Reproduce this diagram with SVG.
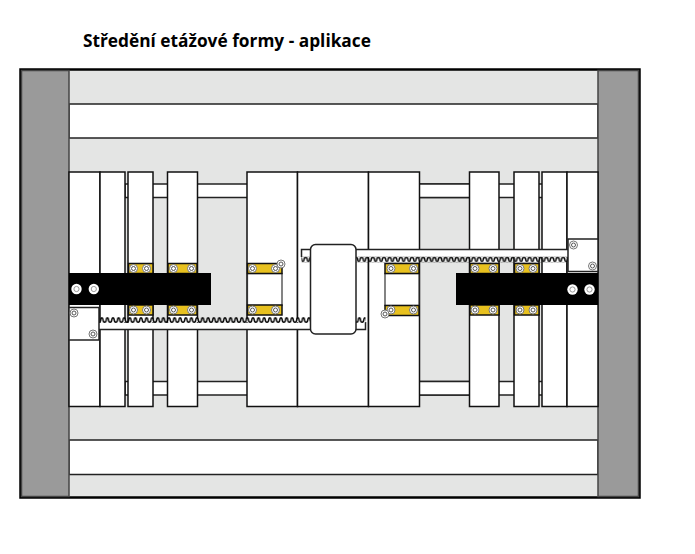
<svg xmlns="http://www.w3.org/2000/svg" width="695" height="554" viewBox="0 0 695 554">
<style>
.g{fill:#e4e5e4;stroke:none}
.w{fill:#fff;stroke:#222;stroke-width:1.5}
.p{fill:#fff;stroke:#111;stroke-width:1.5}
.y{fill:#e8c11f;stroke:#111;stroke-width:1.5}
.b{fill:#000}
.c{fill:#9a9a9a;stroke:#444;stroke-width:1.5}
.t{font-family:"Open Sans",sans-serif;font-weight:700;font-size:17.3px;fill:#000}
</style>
<defs>
<g id="s"><circle r="4" fill="#fff" stroke="#777" stroke-width="1"/><circle r="2" fill="none" stroke="#555" stroke-width="1"/></g>
<g id="h"><circle r="5.200" fill="#fff"/><circle r="2.600" fill="none" stroke="#999" stroke-width="1"/></g>
<pattern id="tu" x="99" y="317" width="5.600" height="6" patternUnits="userSpaceOnUse"><path d="M0 5.200 Q1.400 5.200 1.600 3 Q1.800 .8 2.800 .8 Q3.800 .8 4 3 Q4.200 5.200 5.600 5.200" fill="#fff" stroke="#000" stroke-width="1.500"/></pattern>
<pattern id="td" x="300" y="256.500" width="5.600" height="6" patternUnits="userSpaceOnUse"><path d="M0 .8 Q1.400 .8 1.600 3 Q1.800 5.200 2.800 5.200 Q3.800 5.200 4 3 Q4.200 .8 5.600 .8" fill="#fff" stroke="#000" stroke-width="1.500"/></pattern>
</defs>
<rect width="695" height="554" fill="#fff"/>
<text class="t" x="83" y="47">Středění etážové formy - aplikace</text>
<g id="frame">
<rect x="20.500" y="69.500" width="619" height="428" fill="#e4e5e4" stroke="#000" stroke-width="2.500"/>
<rect class="w" x="69" y="104" width="529" height="34"/>
<rect class="w" x="69" y="440" width="529" height="34.500"/>
<rect class="c" x="21.500" y="70.500" width="47.500" height="426" stroke="none"/>
<rect class="c" x="598" y="70.500" width="40.500" height="426"/>
</g>
<g id="rods">
<rect class="w" x="125" y="184" width="345" height="13.500"/>
<rect class="w" x="419" y="184" width="150" height="13.500"/>
<rect class="w" x="125" y="381.500" width="345" height="13.500"/>
<rect class="w" x="419" y="381.500" width="150" height="13.500"/>
</g>
<g id="plates">
<rect class="p" x="69" y="172" width="31" height="234.500"/>
<rect class="p" x="100" y="172" width="25" height="234.500"/>
<rect class="p" x="128" y="172" width="25" height="234.500"/>
<rect class="p" x="167.500" y="172" width="30" height="234.500"/>
<rect class="p" x="247" y="172" width="50.500" height="234.500"/>
<rect class="p" x="297.500" y="172" width="71" height="234.500"/>
<rect class="p" x="368.500" y="172" width="51" height="234.500"/>
<rect class="p" x="469.500" y="172" width="29.500" height="234.500"/>
<rect class="p" x="514" y="172" width="25" height="234.500"/>
<rect class="p" x="542" y="172" width="25" height="234.500"/>
<rect class="p" x="567" y="172" width="31" height="234.500"/>
</g>
<g id="connectors">
<path d="M301.500 257V249.500H568V257Z" fill="#fff" stroke="none"/>
<path d="M301.500 257V249.500H568" fill="none" stroke="#222" stroke-width="1.500"/>
<rect x="301.500" y="256.500" width="266.500" height="6" fill="url(#td)"/>
<path d="M99 323H365.500V329.500H99Z" fill="#fff" stroke="none"/>
<path d="M99 329.500H365.500V322" fill="none" stroke="#222" stroke-width="1.500"/>
<rect x="99" y="317" width="266.500" height="6" fill="url(#tu)"/>
</g>
<g id="housing"><rect x="310.500" y="244.500" width="45.500" height="89.500" rx="5" fill="#fff" stroke="#222" stroke-width="1.500"/></g>
<g id="left-block">
<rect x="69" y="307.500" width="30" height="32.500" fill="#fff" stroke="#222" stroke-width="1.500"/>
<use href="#s" x="74" y="313"/>
<use href="#s" x="93" y="334"/>
</g>
<g id="right-block">
<rect x="568" y="239" width="30" height="32.500" fill="#fff" stroke="#222" stroke-width="1.500"/>
<use href="#s" x="573.500" y="245"/>
<use href="#s" x="592.500" y="266"/>
</g>
<g id="pads">
<rect class="y" x="128.500" y="263.500" width="24.500" height="10"/><use href="#s" x="133.500" y="268.500"/><use href="#s" x="146.500" y="268.500"/>
<rect class="y" x="128.500" y="305" width="24.500" height="10"/><use href="#s" x="133.500" y="310"/><use href="#s" x="146.500" y="310"/>
<rect class="y" x="168" y="263.500" width="29" height="10"/><use href="#s" x="173.500" y="268.500"/><use href="#s" x="191.500" y="268.500"/>
<rect class="y" x="168" y="305" width="29" height="10"/><use href="#s" x="173.500" y="310"/><use href="#s" x="191.500" y="310"/>
<rect x="247.500" y="273.500" width="34.500" height="32" fill="#fff" stroke="#333" stroke-width="1.200"/>
<rect class="y" x="247.500" y="263.500" width="34.500" height="10"/><use href="#s" x="252.500" y="268.500"/><use href="#s" x="275.500" y="268.500"/>
<rect class="y" x="247.500" y="305" width="34.500" height="10"/><use href="#s" x="252.500" y="310"/><use href="#s" x="275.500" y="310"/>
<use href="#s" x="281" y="264"/>
<rect x="385" y="273.500" width="34" height="32" fill="#fff" stroke="#333" stroke-width="1.200"/>
<rect class="y" x="385" y="263.500" width="34" height="10"/><use href="#s" x="391" y="268.500"/><use href="#s" x="413.500" y="268.500"/>
<rect class="y" x="385" y="305.500" width="34" height="10"/><use href="#s" x="391" y="310"/><use href="#s" x="413.500" y="310"/>
<use href="#s" x="385" y="314"/>
<rect class="y" x="470" y="263.500" width="29" height="10"/><use href="#s" x="475" y="268.500"/><use href="#s" x="493" y="268.500"/>
<rect class="y" x="470" y="305" width="29" height="10"/><use href="#s" x="475" y="310"/><use href="#s" x="493" y="310"/>
<rect class="y" x="514.500" y="263.500" width="24.500" height="10"/><use href="#s" x="520" y="268.500"/><use href="#s" x="533" y="268.500"/>
<rect class="y" x="514.500" y="305" width="24.500" height="10"/><use href="#s" x="520" y="310"/><use href="#s" x="533" y="310"/>
</g>
<g id="left-bar">
<rect class="b" x="69" y="273" width="142" height="32"/>
<use href="#h" x="76.500" y="289"/><use href="#h" x="93.800" y="289"/>
</g>
<g id="right-bar">
<rect class="b" x="456" y="273" width="142" height="32"/>
<use href="#h" x="572.500" y="289.500"/><use href="#h" x="589.500" y="289.500"/>
</g>
</svg>
